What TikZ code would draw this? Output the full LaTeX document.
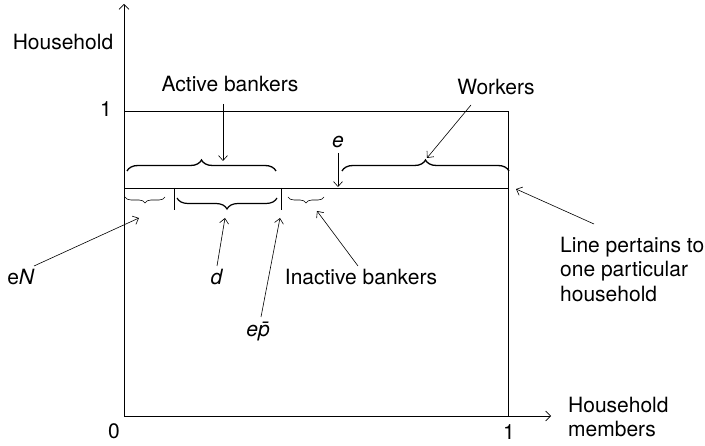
\documentclass[tikz,border=0pt]{standalone}
\usepackage{fontspec}
\setmainfont{TeX Gyre Heros}
\usetikzlibrary{arrows.meta,decorations.pathreplacing}
\begin{document}
\begin{tikzpicture}[x=1pt,y=-1pt,
  lbl/.style={font=\fontsize{21}{24}\selectfont, inner sep=0pt, anchor=base},
  mlbl/.style={font=\fontsize{21}{24.5}\selectfont, inner sep=0pt, anchor=north west, align=left},
  frame/.style={line width=0.9pt, line cap=rect},
  axis/.style={line width=0.9pt, -{Straight Barb[length=5pt,width=10pt,line width=0.7pt]}},
  arr/.style={line width=0.6pt, -{Straight Barb[length=5pt,width=9pt,line width=0.6pt]}},
  bigbrace/.style={decorate, decoration={brace, amplitude=11pt}, line width=1.3pt},
  midbrace/.style={decorate, decoration={brace, amplitude=11pt}, line width=1.2pt},
  smallbrace/.style={decorate, decoration={brace, amplitude=6pt}, line width=0.6pt},
  tick/.style={line width=0.9pt}]
\useasboundingbox (0,0) rectangle (705,446);
% axes corners
\coordinate (O) at (124,416);
\coordinate (ytop) at (124,4);
\coordinate (xend) at (551,416);
\coordinate (TL) at (124,111);
\coordinate (BR) at (508,416);
\coordinate (hl) at (124,188);
\coordinate (hr) at (508,188);
% axes and frame
\draw[axis] (O) -- (ytop);
\draw[axis] (O) -- (xend);
\draw[frame] (TL) rectangle (BR);
\draw[frame] (hl) -- (hr);
% axis labels
\node[lbl] (hh) at (63,50) {Household};
\node[lbl] (one) at (106,117) {1};
\node[lbl] (zero) at (114,439) {0};
\node[lbl] (onex) at (509,440) {1};
\node[mlbl] (hm) at (568,396.5) {Household\\members};
% upper braces
\draw[bigbrace] (127,171) -- (276,171);
\draw[bigbrace] (342,171) -- (509,171);
% lower braces and ticks
\draw[smallbrace] (165,197) -- (125,197);
\draw[midbrace] (277,198) -- (177,198);
\draw[smallbrace] (324,197) -- (288,197);
\draw[tick] (174,188) -- (174,210);
\draw[tick] (281,188) -- (281,210);
% labels
\node[lbl] (act) at (230,92) {Active bankers};
\node[lbl] (wrk) at (496,95) {Workers};
\node[lbl] (e) at (338,148) {\textit{e}};
\node[lbl] (eN) at (21,285) {e\textit{N}};
\node[lbl] (d) at (217,285) {\textit{d}};
\node[lbl] (inact) at (361,285) {Inactive bankers};
\node[lbl] (ep) at (258,337) {\textit{e\={p}}};
\node[mlbl] (line) at (560,236.5) {Line pertains to\\one particular\\household};
% arrow end points
\coordinate (actA) at (223,104);  \coordinate (actB) at (223,161);
\coordinate (wrkA) at (471,105);  \coordinate (wrkB) at (427,158);
\coordinate (eA) at (338,153);    \coordinate (eB) at (338,187);
\coordinate (eNA) at (34,266);    \coordinate (eNB) at (139,218);
\coordinate (dA) at (217,266);    \coordinate (dB) at (225,218);
\coordinate (epA) at (261,317);   \coordinate (epB) at (280,218);
\coordinate (inA) at (358,266);   \coordinate (inB) at (317,211);
\coordinate (lnA) at (594,224);   \coordinate (lnB) at (516,189);
\draw[arr] (actA) -- (actB);
\draw[arr] (wrkA) -- (wrkB);
\draw[arr] (eA) -- (eB);
\draw[arr] (eNA) -- (eNB);
\draw[arr] (dA) -- (dB);
\draw[arr] (epA) -- (epB);
\draw[arr] (inA) -- (inB);
\draw[arr] (lnA) -- (lnB);
\end{tikzpicture}
\end{document}
